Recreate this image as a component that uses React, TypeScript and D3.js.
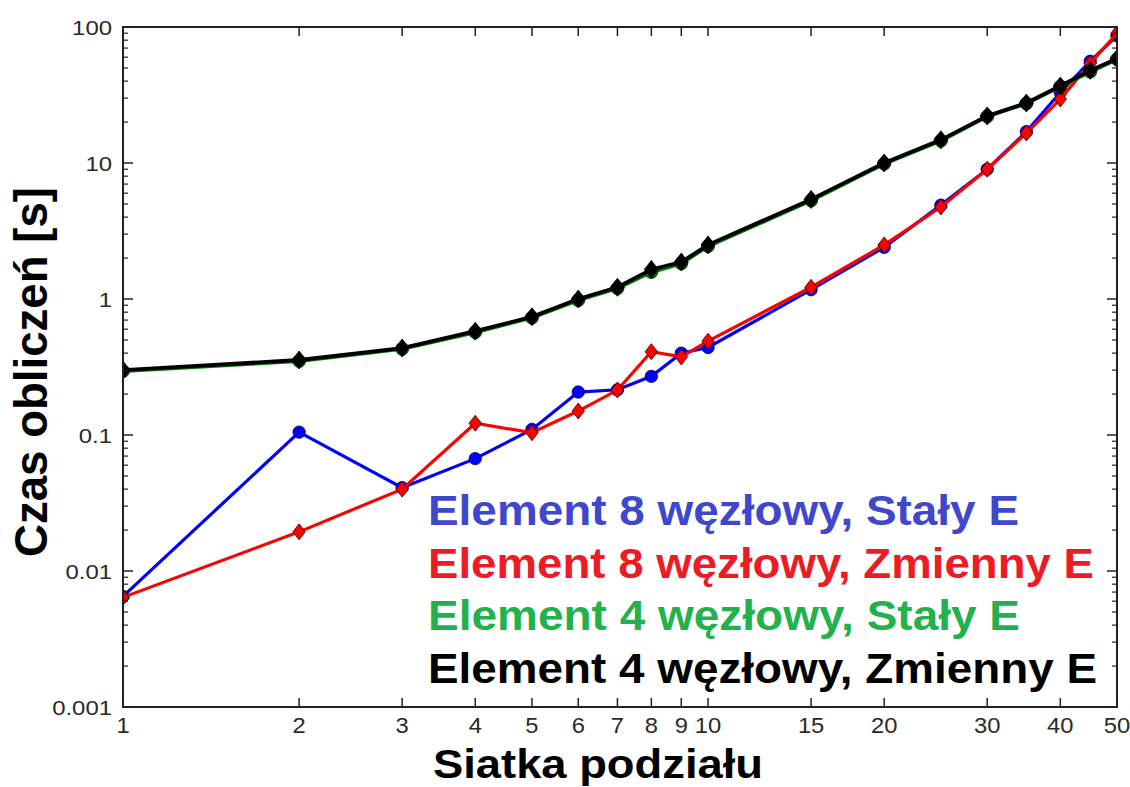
import React from "react";
import * as d3 from "d3";

const xValues = [1, 2, 3, 4, 5, 6, 7, 8, 9, 10, 15, 20, 25, 30, 35, 40, 45, 50];
const blueValues = [0.0065, 0.105, 0.041, 0.067, 0.11, 0.207, 0.215, 0.27, 0.40, 0.44, 1.17, 2.4, 4.9, 9.0, 17, 33, 56, 86];
const redValues = [0.0064, 0.0194, 0.040, 0.122, 0.104, 0.15, 0.214, 0.41, 0.375, 0.49, 1.22, 2.5, 4.75, 9.0, 16.6, 29.5, 54, 90];
const greenValues = [0.295, 0.35, 0.43, 0.57, 0.73, 0.98, 1.2, 1.58, 1.83, 2.45, 5.3, 9.9, 14.6, 22, 27.4, 36.5, 47, 58];
const blackValues = [0.30, 0.356, 0.436, 0.58, 0.74, 1.0, 1.22, 1.65, 1.87, 2.5, 5.4, 10.0, 14.8, 22.2, 27.6, 36.8, 48, 58.5];

const xTicks = [1, 2, 3, 4, 5, 6, 7, 8, 9, 10, 15, 20, 30, 40, 50];
const yMajorTicks = [0.001, 0.01, 0.1, 1, 10, 100];
const yTickLabels = ["0.001", "0.01", "0.1", "1", "10", "100"];

const legendLabels = [
  "Element 8 węzłowy, Stały E",
  "Element 8 węzłowy, Zmienny E",
  "Element 4 węzłowy, Stały E",
  "Element 4 węzłowy, Zmienny E",
];
const legendColors = ["#3f48cc", "#ed1c24", "#22b14c", "#000000"];
const legendWidths = [591, 666, 592, 669];

const xLabel = "Siatka podziału";
const yLabel = "Czas obliczeń [s]";

const L = 123, R = 1117, T = 27, B = 707;

export default function App() {
  const x = d3.scaleLog().domain([1, 50]).range([L, R]);
  const y = d3.scaleLog().domain([0.001, 100]).range([B, T]);

  const minor: number[] = [];
  for (let e = -3; e < 2; e++) {
    for (let m = 2; m <= 9; m++) minor.push(m * Math.pow(10, e));
  }

  const line = d3
    .line<[number, number]>()
    .x((d) => x(d[0]))
    .y((d) => y(d[1]));

  const mk = (vals: number[]) => xValues.map((v, i) => [v, vals[i]] as [number, number]);

  const diamond = (cx: number, cy: number, w: number, h: number) =>
    `M${cx},${cy - h} L${cx + w},${cy} L${cx},${cy + h} L${cx - w},${cy} Z`;

  const font = "'Liberation Sans', Arial, Helvetica, sans-serif";

  return (
    <svg
      width={1130}
      height={787}
      style={{ position: "absolute", left: 0, top: 0, background: "#fff" }}
    >
      <defs>
        <clipPath id="plotClip">
          <rect x={L} y={T} width={R - L} height={B - T} />
        </clipPath>
      </defs>
      <rect x={0} y={0} width={1130} height={787} fill="#fff" />

      <g clipPath="url(#plotClip)">
        <path d={line(mk(blueValues)) || ""} fill="none" stroke="#0000ff" strokeWidth={3.2} />
        {mk(blueValues).map((d, i) => (
          <circle key={"b" + i} cx={x(d[0])} cy={y(d[1])} r={6.2} fill="#0000ff" stroke="#000050" strokeWidth={0.8} />
        ))}
        <path d={line(mk(redValues)) || ""} fill="none" stroke="#ff0000" strokeWidth={3.2} />
        {mk(redValues).map((d, i) => (
          <path key={"r" + i} d={diamond(x(d[0]), y(d[1]), 6.2, 8)} fill="#ff0000" stroke="#300000" strokeWidth={0.8} />
        ))}
        <path d={line(mk(greenValues)) || ""} fill="none" stroke="#008000" strokeWidth={4} />
        {mk(greenValues).map((d, i) => (
          <circle key={"g" + i} cx={x(d[0])} cy={y(d[1])} r={6.5} fill="#008000" stroke="#002000" strokeWidth={0.8} />
        ))}
        <path d={line(mk(blackValues)) || ""} fill="none" stroke="#000000" strokeWidth={3.8} />
        {mk(blackValues).map((d, i) => (
          <path key={"k" + i} d={diamond(x(d[0]), y(d[1]), 7, 9)} fill="#000000" stroke="#000000" strokeWidth={0.8} />
        ))}
      </g>

      <rect x={L} y={T} width={R - L} height={B - T} fill="none" stroke="#222" strokeWidth={2} />

      {yMajorTicks.map((v, i) => (
        <g key={"ym" + i}>
          <line x1={L} x2={L + 10} y1={y(v)} y2={y(v)} stroke="#222" strokeWidth={1.5} />
          <line x1={R} x2={R - 10} y1={y(v)} y2={y(v)} stroke="#222" strokeWidth={1.5} />
          <text
            transform={`translate(112, ${y(v) + 7.5}) scale(1.14, 1)`}
            textAnchor="end"
            fontFamily={font}
            fontSize={21}
            fill="#2a2a2a"
          >
            {yTickLabels[i]}
          </text>
        </g>
      ))}
      {minor.map((v, i) => (
        <g key={"yn" + i}>
          <line x1={L} x2={L + 5} y1={y(v)} y2={y(v)} stroke="#222" strokeWidth={1.2} />
          <line x1={R} x2={R - 5} y1={y(v)} y2={y(v)} stroke="#222" strokeWidth={1.2} />
        </g>
      ))}

      {xTicks.map((v, i) => (
        <g key={"xt" + i}>
          <line x1={x(v)} x2={x(v)} y1={B} y2={B - 9} stroke="#222" strokeWidth={1.5} />
          <line x1={x(v)} x2={x(v)} y1={T} y2={T + 9} stroke="#222" strokeWidth={1.5} />
          <text
            transform={`translate(${x(v)}, 733) scale(1.08, 1)`}
            textAnchor="middle"
            fontFamily={font}
            fontSize={22}
            fill="#2a2a2a"
          >
            {String(v)}
          </text>
        </g>
      ))}

      {legendLabels.map((t, i) => (
        <text
          key={"lg" + i}
          x={428}
          y={525 + i * 52.7}
          fontFamily={font}
          fontWeight="bold"
          fontSize={42}
          fill={legendColors[i]}
          textLength={legendWidths[i]}
          lengthAdjust="spacingAndGlyphs"
        >
          {t}
        </text>
      ))}

      <text
        x={433}
        y={778}
        fontFamily={font}
        fontWeight="bold"
        fontSize={40}
        fill="#000"
        textLength={330}
        lengthAdjust="spacingAndGlyphs"
      >
        {xLabel}
      </text>
      <text
        transform={`translate(47, 557) rotate(-90)`}
        x={0}
        y={0}
        fontFamily={font}
        fontWeight="bold"
        fontSize={46}
        fill="#000"
        textLength={370}
        lengthAdjust="spacingAndGlyphs"
      >
        {yLabel}
      </text>
    </svg>
  );
}
